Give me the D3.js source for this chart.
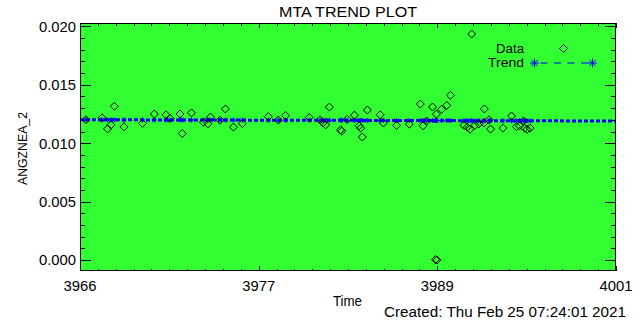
<!DOCTYPE html>
<html>
<head>
<meta charset="utf-8">
<script src="https://cdn.jsdelivr.net/npm/d3@7"></script>
<style>
  html, body { margin: 0; padding: 0; background: #ffffff; }
  svg { display: block; }
  text { font-family: "Liberation Sans", "DejaVu Sans", sans-serif; fill: #000; }
</style>
</head>
<body>
<svg id="chart" width="640" height="320"></svg>
<script>
// ---------------- data ----------------
const times = [
  3966.39, 3967.44, 3967.80, 3968.02, 3968.24, 3968.87, 3970.08, 3970.85, 3971.62, 3971.88,
  3972.53, 3972.68, 3973.28, 3974.06, 3974.36, 3974.52, 3975.14, 3975.49, 3976.02, 3976.60,
  3978.30, 3978.95, 3979.42, 3980.97, 3981.67, 3981.87, 3982.04, 3982.28, 3983.02, 3983.09,
  3983.45, 3983.92, 3984.22, 3984.33, 3984.43, 3984.76, 3985.60, 3985.81, 3986.67, 3987.50,
  3988.22, 3988.40, 3988.64, 3989.02, 3989.21, 3989.27, 3989.30, 3989.61, 3989.95, 3990.19,
  3991.07, 3991.29, 3991.47, 3991.58, 3991.79, 3992.05, 3992.38, 3992.40, 3992.71, 3992.81,
  3993.62, 3994.18, 3994.50, 3994.70, 3994.95, 3995.03, 3995.19, 3995.39
];
const values = [
  0.01200, 0.01217, 0.01123, 0.01157, 0.01316, 0.01140, 0.01170, 0.01250, 0.01243, 0.01213,
  0.01250, 0.01083, 0.01260, 0.01180, 0.01166, 0.01224, 0.01197, 0.01293, 0.01138, 0.01168,
  0.01227, 0.01198, 0.01236, 0.01220, 0.01200, 0.01173, 0.01157, 0.01309, 0.01114, 0.01103,
  0.01204, 0.01240, 0.01149, 0.01129, 0.01053, 0.01284, 0.01243, 0.01173, 0.01153, 0.01163,
  0.01335, 0.01149, 0.01191, 0.01310, 0.00004, 0.01249, 0.00000, 0.01290, 0.01324, 0.01410,
  0.01153, 0.01137, 0.01120, 0.01935, 0.01153, 0.01166, 0.01173, 0.01293, 0.01200, 0.01121,
  0.01129, 0.01233, 0.01142, 0.01149, 0.01191, 0.01129, 0.01119, 0.01129
];
const trendTimes = [3966, 4001];
const trendValues = [0.01201, 0.01190];

const xTickLabels = ["3966", "3977", "3989", "4001"];
const yTickValues = [0.000, 0.005, 0.010, 0.015, 0.020];
const yTickLabels = ["0.000", "0.005", "0.010", "0.015", "0.020"];

const titleText = "MTA TREND PLOT";
const xTitle = "Time";
const yTitle = "ANGZNEA_2";
const createdText = "Created: Thu Feb 25 07:24:01 2021";
const legendLabels = ["Data", "Trend"];

// ---------------- layout ----------------
const svg = d3.select("#chart");
const L = 80, R = 616, T = 23, B = 271;
const xDomain = [3966, 4001];
const yDomain = [-0.00094, 0.02029];
const x = d3.scaleLinear().domain(xDomain).range([L, R]);
const y = d3.scaleLinear().domain(yDomain).range([B, T]);

// plot background
svg.append("rect").attr("x", L).attr("y", T).attr("width", R - L).attr("height", B - T)
  .attr("fill", "#32ff32");

// ticks
const nMajX = xTickLabels.length - 1;
const xMajor = d3.range(nMajX + 1).map(i => xDomain[0] + i * (xDomain[1] - xDomain[0]) / nMajX);
const xMinor = d3.range(nMajX * 10 + 1).map(i => xDomain[0] + i * (xDomain[1] - xDomain[0]) / (nMajX * 10));
const yMinor = d3.range(0, 21).map(i => i * 0.001).filter(v => v >= yDomain[0] && v <= yDomain[1]);

const ax = svg.append("g").attr("stroke", "#000").attr("stroke-width", 1).attr("shape-rendering", "crispEdges");
const xMajLen = 5, xMinLen = 2.5, yMajLen = 10.7, yMinLen = 5.4;
xMinor.forEach(t => {
  const px = Math.round(x(t)) + 0.5;
  ax.append("line").attr("x1", px).attr("x2", px).attr("y1", B).attr("y2", B - xMinLen);
  ax.append("line").attr("x1", px).attr("x2", px).attr("y1", T).attr("y2", T + xMinLen);
});
xMajor.forEach(t => {
  const px = Math.round(x(t)) + 0.5;
  ax.append("line").attr("x1", px).attr("x2", px).attr("y1", B).attr("y2", B - xMajLen);
  ax.append("line").attr("x1", px).attr("x2", px).attr("y1", T).attr("y2", T + xMajLen);
});
yMinor.forEach(v => {
  const py = Math.round(y(v)) + 0.5;
  ax.append("line").attr("x1", L).attr("x2", L + yMinLen).attr("y1", py).attr("y2", py);
  ax.append("line").attr("x1", R).attr("x2", R - yMinLen).attr("y1", py).attr("y2", py);
});
yTickValues.forEach(v => {
  const py = Math.round(y(v)) + 0.5;
  ax.append("line").attr("x1", L).attr("x2", L + yMajLen).attr("y1", py).attr("y2", py);
  ax.append("line").attr("x1", R).attr("x2", R - yMajLen).attr("y1", py).attr("y2", py);
});

// tick labels
xMajor.forEach((t, i) => {
  svg.append("text").attr("x", x(t)).attr("y", 291).attr("text-anchor", "middle")
    .attr("font-size", 14).attr("textLength", 33).attr("lengthAdjust", "spacingAndGlyphs")
    .text(xTickLabels[i]);
});
yTickValues.forEach((v, i) => {
  svg.append("text").attr("x", 76).attr("y", y(v) + 5.3).attr("text-anchor", "end")
    .attr("font-size", 14).attr("textLength", 37).attr("lengthAdjust", "spacingAndGlyphs")
    .text(yTickLabels[i]);
});

// trend line
const tline = d3.line().x(d => x(d[0])).y(d => y(d[1]));
svg.append("path").datum(trendTimes.map((t, i) => [t, trendValues[i]]))
  .attr("d", tline).attr("fill", "none").attr("stroke", "#0000ff")
  .attr("stroke-width", 3).attr("stroke-dasharray", "4,2");
const trendAt = d3.scaleLinear().domain(trendTimes).range(trendValues);

function asterisk(cx, cy, r) {
  const d = r * 0.7071;
  return `M${cx - r},${cy}L${cx + r},${cy}M${cx},${cy - r}L${cx},${cy + r}` +
         `M${cx - d},${cy - d}L${cx + d},${cy + d}M${cx - d},${cy + d}L${cx + d},${cy - d}`;
}
svg.append("g").selectAll("path").data(times).join("path")
  .attr("d", t => asterisk(x(t), y(trendAt(t)), 2.5))
  .attr("stroke", "#0000ff").attr("stroke-width", 1).attr("fill", "none");

// data diamonds
function diamond(cx, cy, r) {
  return `M${cx},${cy - r}L${cx + r},${cy}L${cx},${cy + r}L${cx - r},${cy}Z`;
}
svg.append("g").selectAll("path").data(times).join("path")
  .attr("d", (t, i) => diamond(x(t), y(values[i]), 4))
  .attr("fill", "none").attr("stroke", "#000").attr("stroke-width", 1);

// frame
svg.append("rect").attr("x", L + 0.5).attr("y", T + 0.5).attr("width", R - L - 1).attr("height", B - T - 1)
  .attr("fill", "none").attr("stroke", "#000").attr("stroke-width", 1).attr("shape-rendering", "crispEdges");

// titles
svg.append("text").attr("x", 348).attr("y", 17).attr("text-anchor", "middle")
  .attr("font-size", 14).attr("textLength", 138).attr("lengthAdjust", "spacingAndGlyphs").text(titleText);
svg.append("text").attr("x", 347.5).attr("y", 306).attr("text-anchor", "middle")
  .attr("font-size", 14).attr("textLength", 29).attr("lengthAdjust", "spacingAndGlyphs").text(xTitle);
svg.append("text").attr("x", 626).attr("y", 317).attr("text-anchor", "end")
  .attr("font-size", 14).attr("textLength", 242).attr("lengthAdjust", "spacingAndGlyphs").text(createdText);
svg.append("text").attr("transform", "translate(27,148.5) rotate(-90)").attr("text-anchor", "middle")
  .attr("font-size", 13).attr("textLength", 73).attr("lengthAdjust", "spacingAndGlyphs").text(yTitle);

// legend
svg.append("text").attr("x", 524).attr("y", 52.5).attr("text-anchor", "end")
  .attr("font-size", 12.5).attr("textLength", 28).attr("lengthAdjust", "spacingAndGlyphs").text(legendLabels[0]);
svg.append("path").attr("d", diamond(563.5, 48.5, 4)).attr("fill", "none").attr("stroke", "#000");
svg.append("text").attr("x", 524).attr("y", 67).attr("text-anchor", "end")
  .attr("font-size", 12.5).attr("textLength", 36).attr("lengthAdjust", "spacingAndGlyphs").text(legendLabels[1]);
svg.append("line").attr("x1", 534.5).attr("x2", 592.5).attr("y1", 63).attr("y2", 63)
  .attr("stroke", "#0000ff").attr("stroke-width", 1).attr("stroke-dasharray", "7,6.5").attr("stroke-dashoffset", -6);
svg.append("path").attr("d", asterisk(534.5, 63, 4.5) + asterisk(592.5, 63, 4.5))
  .attr("stroke", "#0000ff").attr("stroke-width", 1).attr("fill", "none");
</script>
</body>
</html>
